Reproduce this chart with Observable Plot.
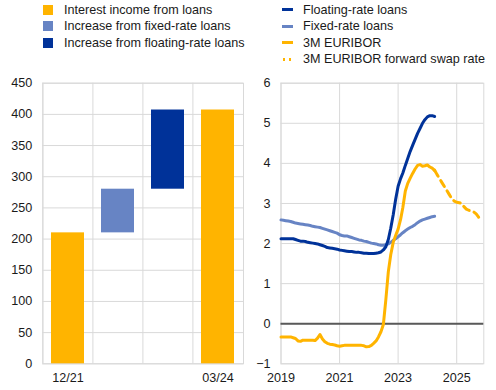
<!DOCTYPE html>
<html><head><meta charset="utf-8">
<script src="https://cdn.jsdelivr.net/npm/d3@7"></script>
<script src="https://cdn.jsdelivr.net/npm/@observablehq/plot@0.6"></script>
<style>
body{margin:0;background:#fff;font-family:Arial,"Liberation Sans",sans-serif;}
#wrap{position:relative;width:496px;height:390px;overflow:hidden;background:#fff;}
.leg{position:absolute;height:16px;display:flex;align-items:center;font-size:12.6px;line-height:16px;color:#1a1a1a;white-space:nowrap;}
.chart{position:absolute;top:66px;}
</style></head><body><div id="wrap"></div>
<script>
// ---- Left panel (waterfall) ----
const barCategories = ["12/21", "fixed", "floating", "03/24"];
const barTickLabels = ["12/21", "", "", "03/24"];
const barValues = [210, 70, 127, 407];
const barKinds = ["total", "increase", "increase", "total"];
const barColors = ["#FFB400", "#6784C4", "#003299", "#FFB400"];
const leftYTicks = [0, 50, 100, 150, 200, 250, 300, 350, 400, 450];

// ---- Right panel (rates, monthly from Jan 2019) ----
const ratesStart = "2019-01-01";
const floatingRate = [
  2.12, 2.12, 2.12, 2.12, 2.12, 2.12, 2.10, 2.08, 2.06, 2.06, 2.05, 2.03,
  2.02, 2.01, 2.00, 1.99, 1.97, 1.95, 1.93, 1.90, 1.89, 1.88, 1.87, 1.86,
  1.84, 1.83, 1.82, 1.81, 1.80, 1.80, 1.79, 1.78, 1.78, 1.77, 1.76, 1.76,
  1.75, 1.75, 1.75, 1.76, 1.77, 1.79, 1.84, 1.92, 2.10, 2.38, 2.72, 3.10,
  3.43, 3.62, 3.76, 3.95, 4.12, 4.30, 4.45, 4.60, 4.75, 4.87, 5.00, 5.09,
  5.16, 5.19, 5.19, 5.17
];
const fixedRate = [
  2.59, 2.58, 2.57, 2.56, 2.55, 2.53, 2.51, 2.50, 2.49, 2.48, 2.47, 2.46,
  2.45, 2.43, 2.42, 2.41, 2.40, 2.38, 2.36, 2.34, 2.32, 2.30, 2.28, 2.26,
  2.22, 2.20, 2.19, 2.19, 2.17, 2.15, 2.13, 2.11, 2.09, 2.08, 2.06, 2.05,
  2.03, 2.01, 2.00, 1.99, 1.97, 1.96, 1.96, 1.97, 1.99, 2.03, 2.08, 2.12,
  2.17, 2.22, 2.27, 2.32, 2.36, 2.40, 2.43, 2.47, 2.52, 2.56, 2.59, 2.61,
  2.63, 2.65, 2.67, 2.68
];
const euribor3m = [
  -0.33, -0.33, -0.33, -0.33, -0.33, -0.35, -0.37, -0.43, -0.44, -0.41, -0.41, -0.41,
  -0.41, -0.41, -0.42, -0.36, -0.27, -0.38, -0.45, -0.49, -0.51, -0.52, -0.53, -0.55,
  -0.56, -0.55, -0.54, -0.54, -0.54, -0.54, -0.54, -0.54, -0.54, -0.54, -0.55, -0.575,
  -0.57, -0.54, -0.49, -0.43, -0.33, -0.20, -0.02, 0.60, 1.30, 1.72, 2.03, 2.20,
  2.36, 2.60, 2.90, 3.31, 3.50, 3.63, 3.75, 3.86, 3.95, 3.97, 3.93, 3.94,
  3.96, 3.91, 3.88, 3.82
];
const forwardStart = "2024-04-01";
const forwardSwap = [
  3.83, 3.72, 3.62, 3.52, 3.42, 3.32, 3.22, 3.12, 3.06,
  3.03, 3.02, 3.00, 2.92, 2.86, 2.83, 2.81, 2.79, 2.74, 2.66, 2.55
];
const rightYTicks = [-1, 0, 1, 2, 3, 4, 5, 6];
const rightXTickYears = [2019, 2021, 2023, 2025];

// ---- Legend ----
const legendLeft = ["Interest income from loans", "Increase from fixed-rate loans", "Increase from floating-rate loans"];
const legendLeftColors = ["#FFB400", "#6784C4", "#003299"];
const legendRight = ["Floating-rate loans", "Fixed-rate loans", "3M EURIBOR", "3M EURIBOR forward swap rate"];
const legendRightColors = ["#003299", "#6784C4", "#FFB400", "#FFB400"];
const legendRightDashed = [false, false, false, true];

const GRID = "#d9d9d9";
const TEXT = "#1a1a1a";
const FONT = "Arial, 'Liberation Sans', sans-serif";
const wrap = document.getElementById("wrap");

// Legend
const rowCenters = [9.5, 26, 42.5, 59];
legendLeft.forEach((t, i) => {
  const d = document.createElement("div");
  d.className = "leg";
  d.style.left = "43px";
  d.style.top = (rowCenters[i] - 8) + "px";
  d.innerHTML = `<span style="display:inline-block;width:10px;height:10px;background:${legendLeftColors[i]};margin-right:11px"></span><span>${t}</span>`;
  wrap.appendChild(d);
});
legendRight.forEach((t, i) => {
  const d = document.createElement("div");
  d.className = "leg";
  d.style.left = "282px";
  d.style.top = (rowCenters[i] - 8) + "px";
  const sym = legendRightDashed[i]
    ? `<span style="display:inline-block;width:11px;height:3px;margin-right:10px;background:repeating-linear-gradient(to right, transparent 0 0.7px, ${legendRightColors[i]} 0.7px 3.1px, transparent 3.1px 6.3px)"></span>`
    : `<span style="display:inline-block;width:11px;height:3px;background:${legendRightColors[i]};margin-right:10px"></span>`;
  d.innerHTML = sym + `<span>${t}</span>`;
  wrap.appendChild(d);
});

// Waterfall rows
let running = 0;
const barRows = barCategories.map((c, i) => {
  let y1, y2;
  if (barKinds[i] === "total") { y1 = 0; y2 = barValues[i]; running = barValues[i]; }
  else { y1 = running; y2 = running + barValues[i]; running = y2; }
  return {cat: c, y1, y2, color: barColors[i]};
});

const leftW = 250, mL = 42.3, mR = 7;
const step = (leftW - mL - mR) / barCategories.length;
const left = Plot.plot({
  width: leftW, height: 324,
  marginLeft: mL, marginRight: mR, marginTop: 16.7, marginBottom: 26.7,
  style: {fontFamily: FONT, fontSize: "12.6px", color: TEXT, background: "transparent", overflow: "visible"},
  x: {type: "band", domain: barCategories, paddingInner: 0.34, paddingOuter: 0.17, label: null},
  y: {domain: [0, 450], label: null},
  color: {type: "identity"},
  marks: [
    Plot.gridY(leftYTicks, {stroke: GRID, strokeOpacity: 1}),
    Plot.ruleX(barCategories, {dx: -step / 2, stroke: GRID}),
    Plot.frame({stroke: GRID}),
    Plot.barY(barRows, {x: "cat", y1: "y1", y2: "y2", fill: "color"}),
    Plot.axisY(leftYTicks, {tickSize: 0, tickPadding: 10.5, label: null}),
    Plot.axisX({tickSize: 0, tickPadding: 9.4, label: null,
      tickFormat: d => barTickLabels[barCategories.indexOf(d)]})
  ]
});
left.classList.add("chart");
left.style.left = "0px";
wrap.appendChild(left);

// Rates
const start = new Date(ratesStart + "T00:00:00Z");
const fstart = new Date(forwardStart + "T00:00:00Z");
const rows = (arr, s, key) => arr.map((v, i) => ({date: d3.utcMonth.offset(s, i), value: v, key}));
const floatRows = rows(floatingRate, start, "floating");
const fixedRows = rows(fixedRate, start, "fixed");
const euriborRows = rows(euribor3m, start, "euribor");
const fwdRows = rows(forwardSwap, fstart, "forward");
const xTicks = rightXTickYears.map(y => new Date(Date.UTC(y, 0, 1)));

const right = Plot.plot({
  width: 246, height: 324,
  marginLeft: 30.5, marginRight: 12.7, marginTop: 16.7, marginBottom: 26.7,
  style: {fontFamily: FONT, fontSize: "12.6px", color: TEXT, background: "transparent", overflow: "visible"},
  x: {type: "utc", domain: [new Date(Date.UTC(2019, 0, 1)), new Date(Date.UTC(2025, 11, 5))], label: null},
  y: {domain: [-1, 6], label: null},
  marks: [
    Plot.gridY(rightYTicks, {stroke: GRID, strokeOpacity: 1}),
    Plot.gridX(xTicks, {stroke: GRID, strokeOpacity: 1}),
    Plot.frame({stroke: GRID}),
    Plot.ruleY([0], {stroke: "#595959", strokeWidth: 2}),
    Plot.lineY(fixedRows, {x: "date", y: "value", stroke: "#6784C4", strokeWidth: 3, strokeLinejoin: "round"}),
    Plot.lineY(floatRows, {x: "date", y: "value", stroke: "#003299", strokeWidth: 3, strokeLinejoin: "round"}),
    Plot.lineY(euriborRows, {x: "date", y: "value", stroke: "#FFB400", strokeWidth: 3, strokeLinejoin: "round"}),
    Plot.lineY(fwdRows, {x: "date", y: "value", stroke: "#FFB400", strokeWidth: 3, strokeDasharray: "7,5", strokeLinejoin: "round"}),
    Plot.axisY(rightYTicks, {tickSize: 0, tickPadding: 10.5, label: null}),
    Plot.axisX(xTicks, {tickSize: 0, tickPadding: 9.4, tickFormat: "%Y", label: null})
  ]
});
right.classList.add("chart");
right.style.left = "250px";
wrap.appendChild(right);
</script></body></html>
